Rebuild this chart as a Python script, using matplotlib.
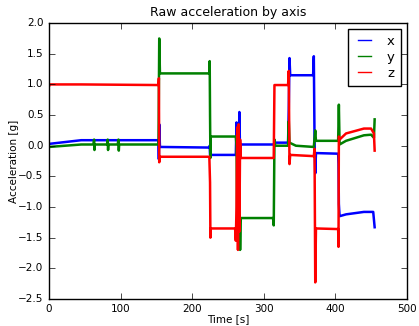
import matplotlib
matplotlib.use("Agg")
import matplotlib.pyplot as plt

plt.style.use("classic")

# Blue (x)
x_t = [0, 45, 153, 153.5, 154, 155, 224, 224.5, 225, 261, 262, 263, 264, 265, 266, 267, 268,
       314, 315, 334, 335, 336, 337, 369, 370, 371, 372, 373, 404, 404.5, 405, 406, 415, 440, 453, 455]
x_v = [0.03, 0.09, 0.09, -0.22, 0.35, -0.02, -0.03, 0.0, -0.15, -0.15, 0.38, -0.1, 0.2, -0.05, 0.55, -0.15, 0.02,
       0.02, 0.05, 0.05, 0.6, 1.43, 1.15, 1.15, 1.46, 0.1, -0.45, -0.12, -0.13, -0.3, -0.95, -1.15, -1.12, -1.08, -1.08, -1.33]

# Green (y)
y_t = [0, 45, 62, 63, 63.5, 64, 81, 82, 82.5, 83, 96, 97, 97.5, 98, 153, 154, 155, 224, 224.5, 225, 225.5, 226,
       261, 262, 263, 264, 265, 266, 267, 268, 313, 314, 315, 316, 334, 335, 336, 345, 370, 372, 373,
       404, 405, 406, 415, 440, 450, 454, 455]
y_v = [-0.02, 0.02, 0.02, 0.1, -0.07, 0.02, 0.02, 0.1, -0.07, 0.02, 0.02, 0.1, -0.08, 0.02, 0.02, 1.75, 1.18, 1.18, 1.38, 0.5, -0.2, 0.15,
       0.15, 0.0, -1.5, -0.4, -1.65, -0.85, -1.7, -1.18, -1.18, -1.3, 0.1, 0.0, 0.0, 0.4, 0.05, 0.0, -0.02, 0.25, 0.08,
       0.08, 0.67, 0.02, 0.08, 0.17, 0.18, 0.13, 0.43]

# Red (z)
z_t = [0, 1, 45, 153, 153.5, 154, 155, 224, 225, 225.5, 226, 260, 261, 262, 263, 264, 265, 266, 267, 268,
       314, 315, 334, 335, 336, 337, 370, 371, 372, 373, 404, 404.5, 405, 406, 415, 440, 450, 454, 455]
z_v = [0.97, 1.0, 1.0, 0.99, 1.1, -0.27, -0.18, -0.18, -0.6, -1.5, -1.35, -1.35, -1.55, -1.0, 0.3, -1.7, 0.35, -1.4, 0.1, -0.2,
       -0.2, 0.99, 0.99, 1.22, -0.3, -0.15, -0.17, -0.05, -2.23, -1.35, -1.36, -1.65, 0.15, 0.1, 0.2, 0.28, 0.28, 0.2, -0.08]

fig = plt.figure(figsize=(4.19, 3.26), dpi=100, facecolor="white")
ax = fig.add_axes([0.117, 0.083, 0.854, 0.846])
ax.set_facecolor("white")

ax.plot(x_t, x_v, color="blue", lw=1.8, label="x")
ax.plot(y_t, y_v, color="green", lw=1.8, label="y")
ax.plot(z_t, z_v, color="red", lw=1.8, label="z")

ax.set_xlim(0, 500)
ax.set_ylim(-2.5, 2.0)
ax.set_xticks([0, 100, 200, 300, 400, 500])
ax.set_yticks([-2.5, -2.0, -1.5, -1.0, -0.5, 0.0, 0.5, 1.0, 1.5, 2.0])
ax.tick_params(labelsize=7.5)
ax.set_title("Raw acceleration by axis", fontsize=9)
ax.set_xlabel("Time [s]", fontsize=7.5, labelpad=0)
ax.set_ylabel("Acceleration [g]", fontsize=7.5, labelpad=-1)
leg = ax.legend(loc="upper right", fontsize=9.5, handlelength=1.6, handletextpad=0.9,
                labelspacing=0.22, borderaxespad=0.45, borderpad=0.45)
for l in leg.get_lines():
    l.set_linewidth(1)

fig.savefig("out.png", dpi=100, facecolor="white")
